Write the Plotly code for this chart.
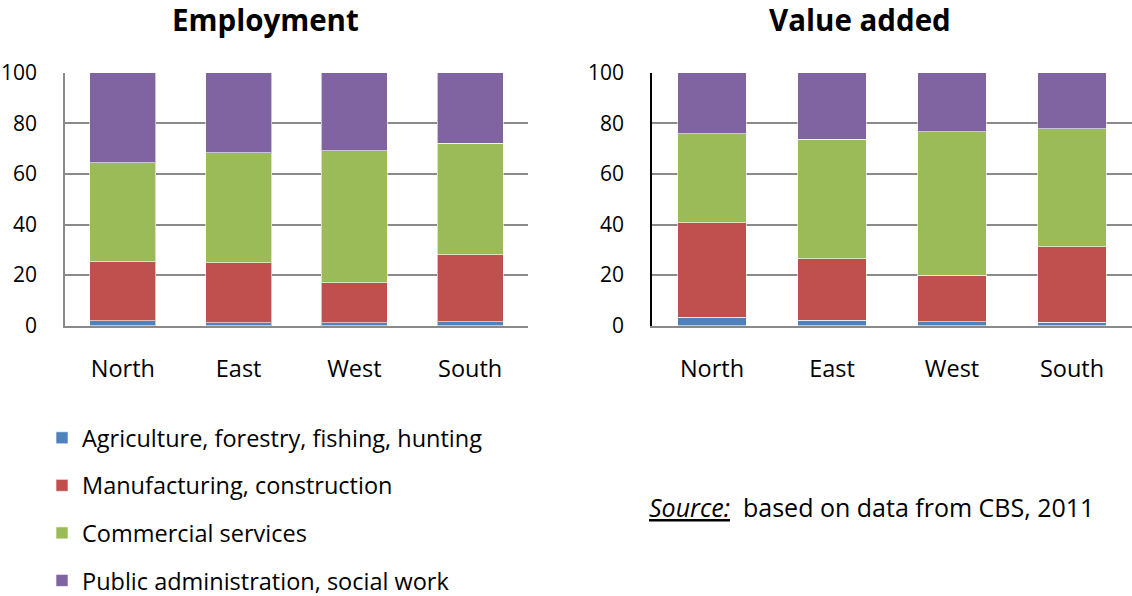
import plotly.graph_objects as go

regions = ["North", "East", "West", "South"]
sectors = ["Agriculture, forestry, fishing, hunting", "Manufacturing, construction",
           "Commercial services", "Public administration, social work"]
colors = ["#4F81BD", "#C0504D", "#9BBB59", "#8064A2"]

employment_agri = [1.9, 1.2, 1.2, 1.5]
employment_manuf = [23.4, 23.7, 15.8, 26.6]
employment_comm = [39.1, 43.4, 52.1, 44.0]
employment_public = [35.6, 31.7, 30.9, 27.9]

value_agri = [3.3, 2.1, 1.6, 1.3]
value_manuf = [37.3, 24.3, 18.4, 29.9]
value_comm = [35.2, 47.3, 56.6, 46.7]
value_public = [24.2, 26.3, 23.4, 22.1]

emp = [employment_agri, employment_manuf, employment_comm, employment_public]
val = [value_agri, value_manuf, value_comm, value_public]

FONT = "Open Sans"
FS = 23.5
fig = go.Figure()
for i, name in enumerate(sectors):
    fig.add_trace(go.Bar(x=regions, y=emp[i], name=name, marker_color=colors[i],
                         marker_line=dict(color="rgba(255,255,255,0.6)", width=1),
                         width=0.57, xaxis="x", yaxis="y", legendgroup=str(i)))
    fig.add_trace(go.Bar(x=regions, y=val[i], name=name, marker_color=colors[i],
                         marker_line=dict(color="rgba(255,255,255,0.6)", width=1),
                         width=0.57, xaxis="x2", yaxis="y2", showlegend=False,
                         legendgroup=str(i)))

H = 596
W = 1132
ydom = [1 - 325.7 / H, 1 - 72.7 / H]
axis_common = dict(showgrid=False, ticks="", automargin=False,
                   tickfont=dict(family=FONT, size=FS, color="#000"))
yaxis_common = dict(range=[0, 100], tickvals=[0, 20, 40, 60, 80, 100], showgrid=True,
                    gridcolor="#8a8a8a", gridwidth=1.5, zeroline=False, showline=True,
                    linewidth=1.5, ticks="", automargin=False,
                    tickfont=dict(family=FONT, size=21, color="#000"),
                    domain=ydom, fixedrange=True)

fig.update_layout(
    width=W, height=H, barmode="stack", bargap=0.43,
    plot_bgcolor="white", paper_bgcolor="white",
    margin=dict(l=0, r=0, t=0, b=0, autoexpand=False),
    xaxis=dict(domain=[65 / W, 528 / W], anchor="y", showline=True, linecolor="#8a8a8a",
               linewidth=1.5, ticklabelstandoff=21, **axis_common),
    xaxis2=dict(domain=[652 / W, 1.0], anchor="y2", showline=True, linecolor="#8a8a8a",
                linewidth=1.5, ticklabelstandoff=21, **axis_common),
    yaxis=dict(anchor="x", linecolor="#8a8a8a", ticklabelstandoff=22, **yaxis_common),
    yaxis2=dict(anchor="x2", linecolor="#000000", ticklabelstandoff=22, **yaxis_common),
    showlegend=True,
    legend=dict(x=42 / W, y=1 - 416 / H, xanchor="left", yanchor="top",
                font=dict(family=FONT, size=FS, color="#000"),
                tracegroupgap=14, itemwidth=30, bgcolor="rgba(0,0,0,0)"),
    annotations=[
        dict(text="<b>Employment</b>", x=265 / W, y=1 - 19.5 / H, xref="paper", yref="paper",
             showarrow=False, font=dict(family=FONT, size=29.5, color="#000"),
             xanchor="center", yanchor="middle", borderpad=0),
        dict(text="<b>Value added</b>", x=860 / W, y=1 - 19.5 / H, xref="paper", yref="paper",
             showarrow=False, font=dict(family=FONT, size=29.5, color="#000"),
             xanchor="center", yanchor="middle", borderpad=0),
        dict(text="<i><u>Source:</u></i>&nbsp;&nbsp;based on data from CBS, 2011", x=871 / W,
             y=1 - 507 / H, xref="paper", yref="paper", showarrow=False,
             font=dict(family=FONT, size=25, color="#000"), xanchor="center", yanchor="middle"),
    ],
)

fig.write_html("out.html")
